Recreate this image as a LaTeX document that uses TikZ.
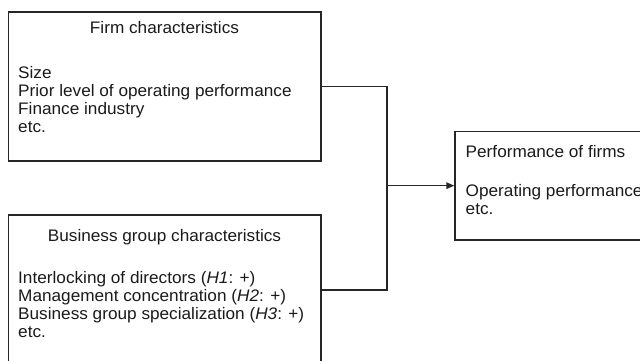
\documentclass[tikz,border=0pt]{standalone}
\usepackage{fontspec}
\setmainfont{Liberation Sans}[FakeStretch=1.03]
\usetikzlibrary{arrows.meta}
\definecolor{ln}{HTML}{262626}
\definecolor{tx}{HTML}{1A1A1A}
\tikzset{
  box/.style={draw=ln, line width=1.6pt, rectangle, inner sep=0pt, fill=none},
  txt/.style={inner sep=0pt, text=tx, font=\fontsize{16.7}{18}\selectfont},
  title/.style={txt, anchor=base},
  item/.style={txt, anchor=base west},
  conn/.style={draw=ln, line width=1.6pt},
}
\begin{document}
\begin{tikzpicture}[x=1pt, y=-1pt]
\useasboundingbox (0,0) rectangle (640,360);
\clip (0,0) rectangle (640,360);
% boxes
\node[box, minimum width=312.4pt, minimum height=148.7pt] (b1) at (164.5,86.35) {};
\node[box, minimum width=312.4pt, minimum height=150.6pt] (b2) at (164.5,290) {};
\node[box, minimum width=240pt, minimum height=108.7pt, anchor=west] (b3) at (454.3,185.65) {};
% box 1 text
\node[title] (t1) at (164.5,33.6) {Firm characteristics};
\node[item] (a1) at (18,78.3) {Size};
\node[item] (a2) at (18,96.3) {Prior level of operating performance};
\node[item] (a3) at (18,114.3) {Finance industry};
\node[item] (a4) at (18,132.3) {etc.};
% box 2 text
\node[title] (t2) at (164.5,241.7) {Business group characteristics};
\node[item] (c1) at (18,283.5) {Interlocking of directors (\textit{H1}: +)};
\node[item] (c2) at (18,301.5) {Management concentration (\textit{H2}: +)};
\node[item] (c3) at (18,319.5) {Business group specialization (\textit{H3}: +)};
\node[item] (c4) at (18,337.5) {etc.};
% box 3 text
\node[item] (t3) at (465.5,157) {Performance of firms};
\node[item] (d1) at (465.5,196.5) {Operating performance};
\node[item] (d2) at (465.5,214.5) {etc.};
% connectors
\coordinate (jt) at (386.7,86.35);
\coordinate (jb) at (386.7,290);
\draw[conn] (b1.east) -- (jt) -- (jb) -- (b2.east);
\draw[conn, -{Triangle[length=8pt, width=6.5pt]}] (jt |- b3.west) -- (b3.west);
\end{tikzpicture}
\end{document}
